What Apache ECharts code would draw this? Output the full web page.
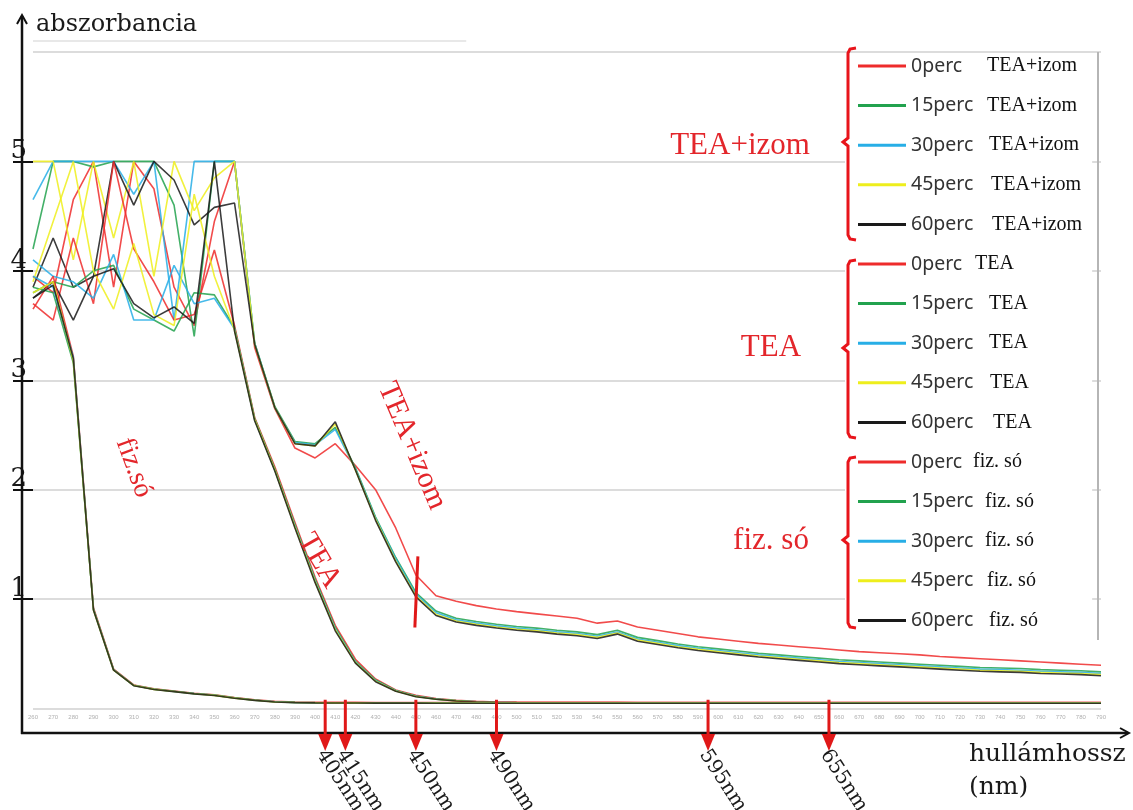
<!DOCTYPE html>
<html>
<head>
<meta charset="utf-8">
<title>abszorbancia – hullámhossz</title>
<script src="https://cdn.jsdelivr.net/npm/echarts@6/dist/echarts.min.js"></script>
<style>
  html, body { margin: 0; padding: 0; background: #fff; }
  #chart { width: 1133px; height: 810px; }
</style>
</head>
<body>
<div id="chart"></div>
<script>
// Wavelengths (nm), one reading every 10 nm
const wavelengths = [
  260, 270, 280, 290, 300, 310, 320, 330, 340, 350,
  360, 370, 380, 390, 400, 410, 420, 430, 440, 450,
  460, 470, 480, 490, 500, 510, 520, 530, 540, 550,
  560, 570, 580, 590, 600, 610, 620, 630, 640, 650,
  660, 670, 680, 690, 700, 710, 720, 730, 740, 750,
  760, 770, 780, 790
];

const timeLabels = ['0perc', '15perc', '30perc', '45perc', '60perc'];
const groupNames = ['TEA+izom', 'TEA', 'fiz. só'];
const arrowMarks = [405, 415, 450, 490, 595, 655];
const yTickValues = [1, 2, 3, 4, 5];

// TEA+izom
const teaIzom0 = [
  3.95, 3.80, 4.65, 5.00, 3.85, 5.00, 4.75, 3.85, 3.50, 4.45,
  5.00, 3.30, 2.74, 2.38, 2.29, 2.42, 2.22, 2.00, 1.65, 1.22,
  1.03, 0.98, 0.94, 0.91, 0.885, 0.865, 0.845, 0.825, 0.78, 0.80,
  0.745, 0.715, 0.685, 0.655, 0.635, 0.615, 0.595, 0.58, 0.565, 0.55,
  0.535, 0.52, 0.51, 0.50, 0.49, 0.475, 0.465, 0.455, 0.445, 0.435,
  0.425, 0.415, 0.405, 0.395
];
const teaIzom15 = [
  4.20, 5.00, 5.00, 4.95, 5.00, 5.00, 5.00, 4.60, 3.40, 5.00,
  5.00, 3.34, 2.76, 2.44, 2.42, 2.57, 2.20, 1.75, 1.38, 1.06,
  0.89, 0.825, 0.795, 0.77, 0.75, 0.735, 0.715, 0.70, 0.675, 0.715,
  0.65, 0.62, 0.59, 0.565, 0.545, 0.525, 0.505, 0.49, 0.475, 0.46,
  0.445, 0.435, 0.425, 0.415, 0.405, 0.395, 0.385, 0.375, 0.37, 0.365,
  0.355, 0.35, 0.345, 0.335
];
const teaIzom30 = [
  4.65, 5.00, 5.00, 5.00, 5.00, 4.70, 5.00, 3.55, 5.00, 5.00,
  5.00, 3.34, 2.75, 2.43, 2.41, 2.55, 2.19, 1.74, 1.37, 1.045,
  0.875, 0.81, 0.78, 0.755, 0.735, 0.72, 0.70, 0.685, 0.66, 0.70,
  0.635, 0.605, 0.575, 0.55, 0.53, 0.51, 0.49, 0.475, 0.46, 0.445,
  0.43, 0.42, 0.41, 0.40, 0.39, 0.38, 0.37, 0.36, 0.355, 0.35,
  0.34, 0.335, 0.33, 0.32
];
const teaIzom45 = [
  5.00, 5.00, 4.10, 5.00, 4.30, 5.00, 3.95, 5.00, 4.55, 4.85,
  5.00, 3.33, 2.75, 2.42, 2.40, 2.60, 2.18, 1.73, 1.35, 1.03,
  0.86, 0.80, 0.77, 0.745, 0.725, 0.71, 0.69, 0.675, 0.65, 0.69,
  0.625, 0.595, 0.565, 0.54, 0.52, 0.50, 0.48, 0.465, 0.45, 0.435,
  0.42, 0.41, 0.40, 0.39, 0.38, 0.37, 0.36, 0.35, 0.345, 0.34,
  0.33, 0.325, 0.32, 0.31
];
const teaIzom60 = [
  3.85, 4.30, 3.85, 3.95, 5.00, 4.60, 5.00, 4.83, 4.42, 4.58,
  4.62, 3.33, 2.75, 2.42, 2.40, 2.62, 2.18, 1.72, 1.34, 1.02,
  0.85, 0.79, 0.76, 0.735, 0.715, 0.70, 0.68, 0.665, 0.64, 0.68,
  0.615, 0.585, 0.555, 0.53, 0.51, 0.49, 0.47, 0.455, 0.44, 0.425,
  0.41, 0.40, 0.39, 0.38, 0.37, 0.36, 0.35, 0.34, 0.335, 0.33,
  0.32, 0.315, 0.31, 0.30
];

// TEA
const tea0 = [
  3.70, 3.55, 4.30, 3.70, 5.00, 4.20, 3.90, 3.55, 3.60, 4.19,
  3.50, 2.66, 2.21, 1.70, 1.20, 0.76, 0.45, 0.27, 0.17, 0.12,
  0.09, 0.075, 0.065, 0.06, 0.058, 0.057, 0.057, 0.056, 0.056, 0.056,
  0.055, 0.055, 0.055, 0.055, 0.055, 0.055, 0.055, 0.055, 0.055, 0.055,
  0.055, 0.055, 0.055, 0.055, 0.055, 0.055, 0.055, 0.055, 0.055, 0.055,
  0.055, 0.055, 0.055, 0.055
];
const tea15 = [
  3.80, 3.90, 3.85, 4.00, 4.05, 3.65, 3.55, 3.45, 3.80, 3.78,
  3.48, 2.65, 2.19, 1.68, 1.18, 0.74, 0.43, 0.26, 0.165, 0.115,
  0.087, 0.072, 0.062, 0.057, 0.054, 0.053, 0.053, 0.052, 0.052, 0.052,
  0.052, 0.052, 0.052, 0.052, 0.052, 0.052, 0.052, 0.052, 0.052, 0.052,
  0.052, 0.052, 0.052, 0.052, 0.052, 0.052, 0.052, 0.052, 0.052, 0.052,
  0.052, 0.052, 0.052, 0.052
];
const tea30 = [
  4.10, 3.95, 3.90, 3.75, 4.15, 3.55, 3.55, 4.05, 3.70, 3.75,
  3.47, 2.64, 2.18, 1.67, 1.17, 0.73, 0.425, 0.255, 0.162, 0.112,
  0.086, 0.071, 0.061, 0.056, 0.053, 0.052, 0.052, 0.051, 0.051, 0.051,
  0.051, 0.051, 0.051, 0.051, 0.051, 0.051, 0.051, 0.051, 0.051, 0.051,
  0.051, 0.051, 0.051, 0.051, 0.051, 0.051, 0.051, 0.051, 0.051, 0.051,
  0.051, 0.051, 0.051, 0.051
];
const tea45 = [
  3.90, 4.45, 5.00, 4.00, 3.65, 4.25, 3.60, 3.50, 4.70, 3.95,
  3.46, 2.64, 2.18, 1.66, 1.16, 0.72, 0.42, 0.25, 0.16, 0.11,
  0.085, 0.07, 0.06, 0.055, 0.052, 0.051, 0.051, 0.05, 0.05, 0.05,
  0.05, 0.05, 0.05, 0.05, 0.05, 0.05, 0.05, 0.05, 0.05, 0.05,
  0.05, 0.05, 0.05, 0.05, 0.05, 0.05, 0.05, 0.05, 0.05, 0.05,
  0.05, 0.05, 0.05, 0.05
];
const tea60 = [
  3.75, 3.90, 3.55, 3.95, 4.02, 3.70, 3.57, 3.67, 3.52, 5.00,
  3.45, 2.63, 2.17, 1.65, 1.15, 0.71, 0.415, 0.245, 0.158, 0.108,
  0.084, 0.069, 0.059, 0.054, 0.051, 0.05, 0.05, 0.049, 0.049, 0.049,
  0.048, 0.048, 0.048, 0.048, 0.048, 0.048, 0.048, 0.048, 0.048, 0.048,
  0.048, 0.048, 0.048, 0.048, 0.048, 0.048, 0.048, 0.048, 0.048, 0.048,
  0.048, 0.048, 0.048, 0.048
];

// fiz. só
const fiz0 = [
  3.65, 3.95, 3.22, 0.92, 0.36, 0.215, 0.18, 0.16, 0.14, 0.125,
  0.10, 0.08, 0.065, 0.06, 0.057, 0.056, 0.056, 0.055, 0.055, 0.055,
  0.055, 0.055, 0.055, 0.055, 0.055, 0.055, 0.055, 0.055, 0.055, 0.055,
  0.055, 0.055, 0.055, 0.055, 0.055, 0.055, 0.055, 0.055, 0.055, 0.055,
  0.055, 0.055, 0.055, 0.055, 0.055, 0.055, 0.055, 0.055, 0.055, 0.055,
  0.055, 0.055, 0.055, 0.055
];
const fiz15 = [
  3.85, 3.80, 3.16, 0.91, 0.355, 0.212, 0.177, 0.157, 0.137, 0.122,
  0.097, 0.077, 0.062, 0.056, 0.054, 0.053, 0.053, 0.052, 0.052, 0.052,
  0.052, 0.052, 0.052, 0.052, 0.052, 0.052, 0.052, 0.052, 0.052, 0.052,
  0.052, 0.052, 0.052, 0.052, 0.052, 0.052, 0.052, 0.052, 0.052, 0.052,
  0.052, 0.052, 0.052, 0.052, 0.052, 0.052, 0.052, 0.052, 0.052, 0.052,
  0.052, 0.052, 0.052, 0.052
];
const fiz30 = [
  3.95, 3.85, 3.21, 0.905, 0.352, 0.21, 0.176, 0.156, 0.136, 0.121,
  0.096, 0.076, 0.061, 0.055, 0.053, 0.052, 0.052, 0.051, 0.051, 0.051,
  0.051, 0.051, 0.051, 0.051, 0.051, 0.051, 0.051, 0.051, 0.051, 0.051,
  0.051, 0.051, 0.051, 0.051, 0.051, 0.051, 0.051, 0.051, 0.051, 0.051,
  0.051, 0.051, 0.051, 0.051, 0.051, 0.051, 0.051, 0.051, 0.051, 0.051,
  0.051, 0.051, 0.051, 0.051
];
const fiz45 = [
  3.80, 3.90, 3.18, 0.90, 0.35, 0.21, 0.175, 0.155, 0.135, 0.12,
  0.095, 0.075, 0.06, 0.055, 0.052, 0.051, 0.051, 0.05, 0.05, 0.05,
  0.05, 0.05, 0.05, 0.05, 0.05, 0.05, 0.05, 0.05, 0.05, 0.05,
  0.05, 0.05, 0.05, 0.05, 0.05, 0.05, 0.05, 0.05, 0.05, 0.05,
  0.05, 0.05, 0.05, 0.05, 0.05, 0.05, 0.05, 0.05, 0.05, 0.05,
  0.05, 0.05, 0.05, 0.05
];
const fiz60 = [
  3.75, 3.87, 3.20, 0.90, 0.35, 0.208, 0.174, 0.154, 0.134, 0.119,
  0.094, 0.074, 0.06, 0.054, 0.051, 0.05, 0.05, 0.049, 0.049, 0.049,
  0.048, 0.048, 0.048, 0.048, 0.048, 0.048, 0.048, 0.048, 0.048, 0.048,
  0.048, 0.048, 0.048, 0.048, 0.048, 0.048, 0.048, 0.048, 0.048, 0.048,
  0.048, 0.048, 0.048, 0.048, 0.048, 0.048, 0.048, 0.048, 0.048, 0.048,
  0.048, 0.048, 0.048, 0.048
];

const groupValues = [
  [teaIzom0, teaIzom15, teaIzom30, teaIzom45, teaIzom60],
  [tea0, tea15, tea30, tea45, tea60],
  [fiz0, fiz15, fiz30, fiz45, fiz60]
];

// Styling
const timeColors = ['#ee2b2b', '#22a24e', '#27aee6', '#eeee1c', '#1a1a1a'];
const RED = '#e3262b';
const SERIF = '"Liberation Serif", "Times New Roman", serif';
const BOOK = '"DejaVu Serif", serif';
// x where the second word of each legend row starts
const legendSecondX = [987, 987, 989, 991, 992, 975, 989, 989, 990, 993, 973, 985, 985, 987, 989];
const legendTextX = 911;

const series = [];
const legendNames = [];
groupNames.forEach((g, gi) => {
  timeLabels.forEach((t, ti) => {
    const name = t + ' ' + g;
    legendNames.push(name);
    const vals = groupValues[gi][ti];
    series.push({
      name,
      type: 'line',
      yAxisIndex: 0,
      data: wavelengths.map((w, i) => [w, vals[i]]),
      showSymbol: false,
      symbol: 'none',
      silent: true,
      color: timeColors[ti],
      lineStyle: { color: timeColors[ti], width: 1.6, opacity: 0.85 },
      emphasis: { disabled: true },
      z: 2
    });
  });
});

const legendRich = {
  s: { fontFamily: SERIF, fontSize: 20, color: '#111', lineHeight: 20 }
};
legendNames.forEach((n, k) => {
  legendRich['p' + k] = {
    fontFamily: '"Noto Sans", sans-serif', fontSize: 19.5, color: '#333',
    lineHeight: 20, width: legendSecondX[k] - legendTextX
  };
});

const option = {
  animation: false,
  backgroundColor: '#fff',
  grid: { left: 33, right: 32, top: 52, bottom: 101.5 },
  xAxis: {
    type: 'value', min: 260, max: 790, interval: 10,
    axisLine: { show: false },
    axisTick: { show: false },
    splitLine: { show: false },
    axisLabel: { fontSize: 6, color: '#b0b0b0', margin: 6, fontFamily: '"Liberation Sans", sans-serif' }
  },
  yAxis: [
    {
      // value scale with the grey grid lines
      type: 'value', min: 0, max: 6, interval: 1,
      axisLine: { show: false },
      axisTick: { show: false },
      axisLabel: { show: false },
      splitLine: { lineStyle: { color: '#dcdcdc', width: 2 } }
    },
    {
      // same scale, carries the crossing ticks and the numbers 1–5
      type: 'value', min: 0, max: 6, interval: 1, position: 'left',
      axisLine: { show: false },
      splitLine: { show: false },
      axisTick: { show: true, length: 20, customValues: yTickValues, lineStyle: { color: '#111', width: 2 } },
      axisLabel: {
        customValues: yTickValues, margin: 6, fontFamily: BOOK, fontSize: 26,
        color: '#1a1a1a', verticalAlign: 'bottom', lineHeight: 20
      }
    }
  ],
  legend: {
    orient: 'vertical', left: 845, top: 53,
    padding: [3, 10, 12, 13],
    itemWidth: 48, itemHeight: 3, itemGap: 19.6,
    icon: 'rect',
    backgroundColor: '#fff',
    selectedMode: false,
    data: legendNames,
    textStyle: { lineHeight: 20, rich: legendRich },
    formatter: name => {
      const k = legendNames.indexOf(name);
      const sp = name.indexOf(' ');
      return '{p' + k + '|' + name.slice(0, sp) + '}{s|' + name.slice(sp + 1) + '}';
    }
  },
  series
};

const chart = echarts.init(document.getElementById('chart'));
chart.setOption(option);

const px = (x, y) => chart.convertToPixel({ gridIndex: 0 }, [x, y]);
const origin = px(260, 0);
const axisX = origin[0] - 11;          // black value axis, left of the plot
const axisY = origin[1] + 24.5;        // black wavelength axis, below the tick labels
const rightEnd = px(790, 0)[0];
const topGrid = px(260, 6)[1];
const deg = d => d * Math.PI / 180;

const elements = [];

// thin line above the plot area
elements.push({ type: 'line', z: 50, shape: { x1: origin[0], y1: topGrid - 11, x2: px(475, 0)[0], y2: topGrid - 11 },
  style: { stroke: '#e8e8e8', lineWidth: 2 } });

// axes with arrow heads
elements.push({ type: 'line', z: 100, shape: { x1: axisX, y1: 16, x2: axisX, y2: axisY + 1 },
  style: { stroke: '#111', lineWidth: 2.5 } });
elements.push({ type: 'polyline', z: 100, shape: { points: [[axisX - 5, 24], [axisX, 15], [axisX + 5, 24]] },
  style: { stroke: '#111', lineWidth: 2, fill: null } });
elements.push({ type: 'line', z: 100, shape: { x1: axisX - 1, y1: axisY, x2: rightEnd + 27, y2: axisY },
  style: { stroke: '#111', lineWidth: 2.5 } });
elements.push({ type: 'polyline', z: 100, shape: { points: [[rightEnd + 19, axisY - 5], [rightEnd + 28, axisY], [rightEnd + 19, axisY + 5]] },
  style: { stroke: '#111', lineWidth: 2, fill: null } });

// axis titles
elements.push({ type: 'text', z: 100, x: 36, y: 25,
  style: { text: 'abszorbancia', fontFamily: BOOK, fontSize: 24, fill: '#1a1a1a', align: 'left', verticalAlign: 'middle' } });
elements.push({ type: 'text', z: 100, x: 969, y: 754,
  style: { text: 'hullámhossz', fontFamily: BOOK, fontSize: 25, fill: '#1a1a1a', align: 'left', verticalAlign: 'middle' } });
elements.push({ type: 'text', z: 100, x: 969, y: 787,
  style: { text: '(nm)', fontFamily: BOOK, fontSize: 25, fill: '#1a1a1a', align: 'left', verticalAlign: 'middle' } });

// wavelength markers: red arrows with rotated labels
arrowMarks.forEach(w => {
  const x = px(w, 0)[0];
  const yTop = px(w, 0.08)[1];
  elements.push({ type: 'line', z: 110, shape: { x1: x, y1: yTop, x2: x, y2: axisY + 2 },
    style: { stroke: '#e01818', lineWidth: 3 } });
  elements.push({ type: 'polygon', z: 110, shape: { points: [[x - 7, axisY + 1], [x + 7, axisY + 1], [x, axisY + 18]] },
    style: { fill: '#e01818' } });
  elements.push({ type: 'text', z: 110, x: x + 4, y: axisY + 13, rotation: deg(-57),
    style: { text: w + 'nm', fontFamily: BOOK, fontSize: 20, fill: '#1a1a1a', align: 'left', verticalAlign: 'top' } });
});

// red tick on the TEA+izom curves at 450 nm
const m1 = px(451, 1.39), m2 = px(449.5, 0.74);
elements.push({ type: 'line', z: 60, shape: { x1: m1[0], y1: m1[1], x2: m2[0], y2: m2[1] },
  style: { stroke: '#e01818', lineWidth: 3 } });

// curve family labels inside the plot
const inPlot = [
  { text: 'fiz.só', at: [310, 2.2], rot: -70, size: 28 },
  { text: 'TEA', at: [402, 1.35], rot: -60, size: 30 },
  { text: 'TEA+izom', at: [448, 2.4], rot: -67, size: 30 }
];
inPlot.forEach(l => {
  const p = px(l.at[0], l.at[1]);
  elements.push({ type: 'text', z: 60, x: p[0], y: p[1], rotation: deg(l.rot),
    style: { text: l.text, fontFamily: SERIF, fontSize: l.size, fill: RED, align: 'center', verticalAlign: 'middle' } });
});

// legend group labels and braces
const groupLabelY = [146, 348, 541];
groupNames.forEach((g, i) => {
  elements.push({ type: 'text', z: 100, x: i === 0 ? 740 : 771, y: groupLabelY[i],
    style: { text: g, fontFamily: SERIF, fontSize: 31, fill: RED, align: 'center', verticalAlign: 'middle' } });
});
const braces = [[48, 142, 240], [260, 348, 438], [457, 540, 628]];
braces.forEach(b => {
  const bx = 848;
  elements.push({ type: 'polyline', z: 100, shape: { points: [
    [bx + 8, b[0]], [bx + 2, b[0] + 1], [bx, b[0] + 5], [bx, b[1] - 4], [bx - 5, b[1]],
    [bx, b[1] + 4], [bx, b[2] - 5], [bx + 2, b[2] - 1], [bx + 8, b[2]]
  ] }, style: { stroke: '#e8141b', lineWidth: 3, fill: null } });
});
// legend right border
elements.push({ type: 'line', z: 100, shape: { x1: 1098, y1: topGrid, x2: 1098, y2: 640 },
  style: { stroke: '#b5b5b5', lineWidth: 2 } });

chart.setOption({ graphic: { elements } });
</script>
</body>
</html>
